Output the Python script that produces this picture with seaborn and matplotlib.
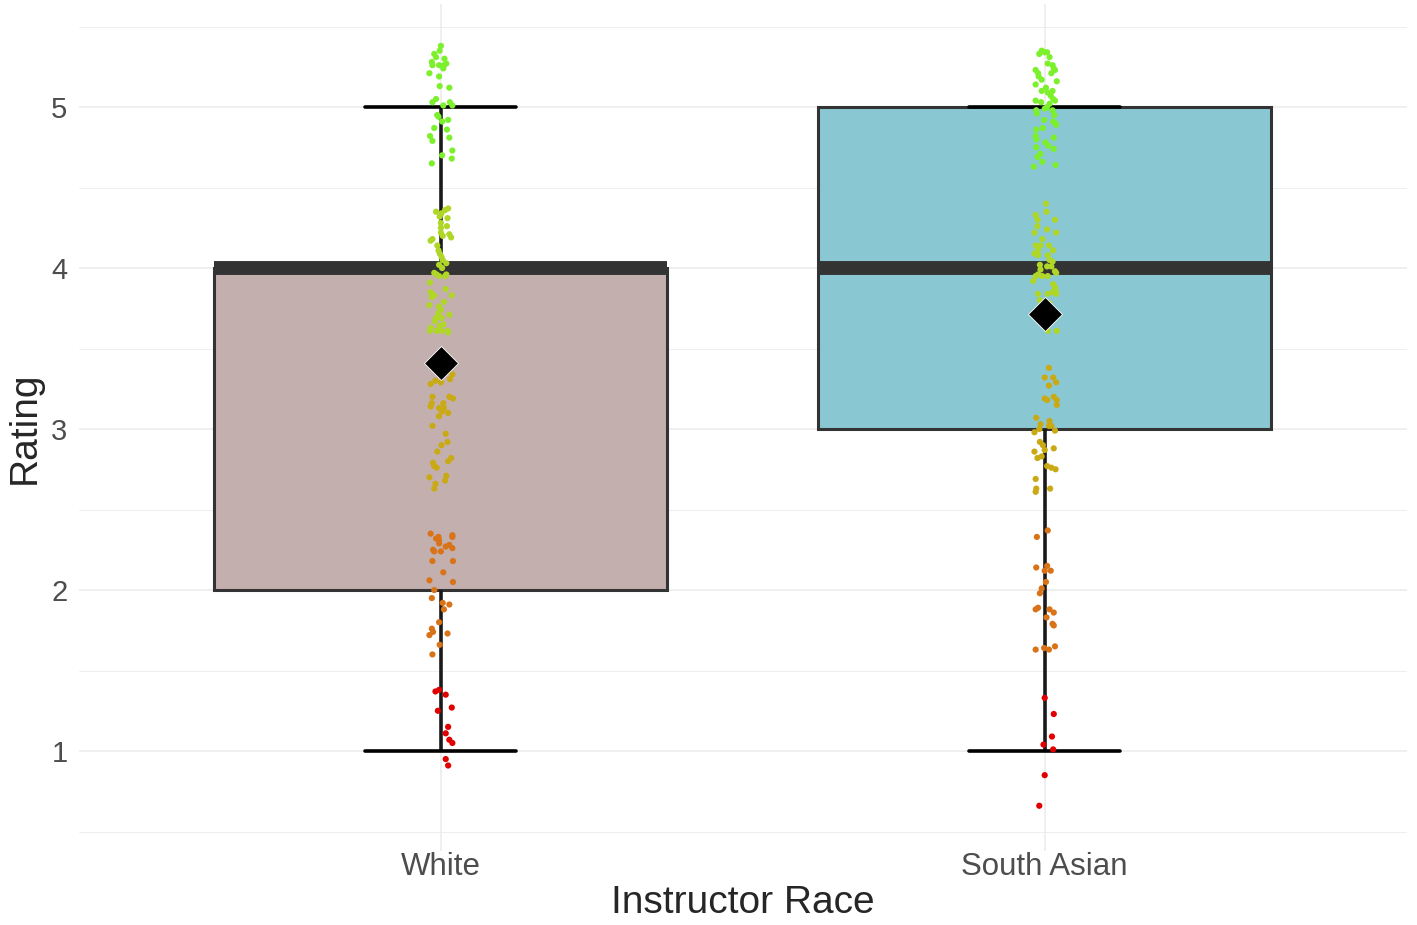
import numpy as np
import pandas as pd
import seaborn as sns
import matplotlib.pyplot as plt
from matplotlib.ticker import MultipleLocator

races = ["White", "South Asian"]
box_colors = {"White": "#C4AFAF", "South Asian": "#89C8D3"}
# point colour for rating 1..5
rating_colors = ["#E10000", "#D97318", "#C9AA14", "#B0D628", "#7CF02C"]

# jittered ratings (y) and horizontal jitter (dx)
white_y = [
    5.38, 5.35, 5.33, 5.31, 5.28, 5.26, 5.26, 5.26, 5.27, 5.24, 5.21, 5.19, 5.13, 5.12, 5.03,
    5.01, 5.03, 5.01, 4.95, 4.94, 4.91, 4.92, 4.87, 4.82, 4.79, 4.81, 4.73, 4.70, 4.68, 4.65,
    5.30, 5.05, 4.86,
    4.37, 4.36, 4.35, 4.34, 4.32, 4.31, 4.28, 4.25, 4.22, 4.21, 4.19, 4.18, 4.17, 4.20, 4.11,
    4.09, 4.07, 4.05, 4.03, 4.02, 4.00, 3.97, 3.96, 3.95, 3.95, 3.96, 3.91, 3.87, 3.85, 3.83,
    3.82, 3.83, 3.77, 3.76, 3.74, 3.72, 3.71, 3.69, 3.67, 3.69, 3.65, 3.64, 3.63, 3.61, 3.61,
    3.61, 3.61, 3.60, 4.26, 4.14, 3.79,
    3.28, 3.30, 3.29, 3.31, 3.34, 3.20, 3.16, 3.14, 3.20, 3.19, 3.16, 3.13, 3.13, 3.10, 3.08,
    3.11, 3.02, 2.97, 2.92, 2.90, 2.86, 2.82, 2.80, 2.79, 2.77, 2.76, 2.70, 2.71, 2.68, 2.66,
    2.63, 3.38, 3.36,
    2.35, 2.32, 2.33, 2.31, 2.29, 2.34, 2.33, 2.25, 2.24, 2.24, 2.27, 2.28, 2.26, 2.18, 2.18,
    2.11, 2.06, 2.05, 2.00, 1.95, 1.92, 1.91, 1.88, 1.80, 1.76, 1.74, 1.72, 1.73, 1.66, 1.60,
    1.37, 1.38, 1.35, 1.27, 1.25, 1.15, 1.11, 1.07, 1.05, 0.95, 0.91,
]
white_dx = [
    0.000, -0.002, -0.011, -0.008, -0.015, -0.014, -0.003, 0.005, 0.009, 0.004, -0.019, -0.003, -0.002, 0.014, -0.014,
    0.004, 0.015, 0.019, -0.006, -0.004, 0.002, 0.012, -0.011, -0.018, -0.014, 0.014, 0.019, 0.002, 0.018, -0.015,
    0.006, -0.008, 0.010,
    0.012, 0.007, -0.008, 0.001, -0.002, 0.011, 0.000, 0.000, 0.000, 0.014, 0.017, -0.014, -0.017, 0.003, -0.004,
    -0.002, 0.001, 0.003, 0.009, -0.003, 0.002, -0.011, -0.007, -0.003, 0.007, 0.009, -0.018, 0.008, -0.017, -0.011,
    -0.015, 0.018, -0.019, -0.003, 0.000, -0.004, 0.014, -0.008, -0.010, 0.001, 0.004, -0.002, -0.017, -0.018, -0.007,
    0.001, 0.011, 0.012, 0.010, -0.006, 0.005,
    -0.017, -0.009, 0.000, 0.015, 0.019, -0.014, -0.015, -0.017, 0.014, 0.020, 0.004, -0.003, 0.005, 0.012, -0.003,
    0.002, -0.014, 0.008, 0.011, 0.001, -0.006, 0.017, 0.012, -0.013, -0.011, -0.007, -0.019, 0.009, 0.007, -0.009,
    -0.011, -0.008, 0.008,
    -0.017, -0.008, -0.004, -0.003, -0.003, 0.019, 0.019, -0.013, -0.011, 0.000, 0.008, 0.014, 0.019, -0.014, 0.020,
    0.004, -0.019, 0.020, -0.011, -0.015, 0.003, 0.014, 0.005, -0.003, -0.015, -0.013, -0.019, 0.011, -0.002, -0.014,
    -0.009, -0.003, 0.008, 0.018, -0.005, 0.012, 0.008, 0.014, 0.019, 0.008, 0.012,
]
sa_y = [
    5.33, 5.35, 5.34, 5.34, 5.27, 5.26, 5.24, 5.21, 5.23, 5.23, 5.21, 5.17, 5.14, 5.16, 5.10,
    5.09, 5.10, 5.05, 5.04, 5.02, 5.04, 5.00, 4.99, 4.98, 4.98, 4.96, 4.92, 4.91, 4.90, 4.89,
    4.86, 4.82, 4.80, 4.81, 4.78, 4.75, 4.74, 4.71, 4.66, 4.63, 4.64,
    5.31, 5.19, 5.12, 5.07, 5.03, 4.95, 4.87, 4.76, 4.69,
    4.40, 4.35, 4.33, 4.30, 4.30, 4.26, 4.24, 4.22, 4.22, 4.18, 4.14, 4.14, 4.14, 4.11, 4.11,
    4.09, 4.08, 4.08, 4.05, 4.04, 4.02, 4.01, 4.01, 3.98, 3.99, 3.96, 3.95, 3.95, 3.95, 3.97,
    3.92, 3.90, 3.88, 3.86, 3.85, 3.84, 3.84, 3.84, 3.61, 3.61, 3.80, 3.78, 3.68,
    3.38, 3.32, 3.32, 3.29, 3.27, 3.19, 3.18, 3.20, 3.18, 3.15, 3.07, 3.03, 3.05, 3.02, 3.00,
    3.02, 2.98, 2.99, 2.92, 2.90, 2.86, 2.87, 2.88, 2.83, 2.82, 2.77, 2.76, 2.75, 2.69, 2.63,
    2.61, 2.63,
    2.37, 2.33, 2.14, 2.15, 2.12, 2.12, 2.05, 2.01, 1.98, 1.89, 1.88, 1.88, 1.86, 1.83, 1.79,
    1.78, 1.64, 1.63, 1.63, 1.65,
    1.33, 1.23, 1.09, 1.04, 1.01, 0.85, 0.66,
]
sa_dx = [
    -0.009, -0.005, 0.000, 0.004, 0.005, 0.013, 0.015, 0.011, 0.017, -0.015, -0.011, -0.005, -0.015, 0.020, -0.005,
    0.005, 0.013, 0.014, 0.017, 0.008, -0.015, 0.004, 0.000, 0.013, -0.014, -0.013, -0.001, 0.014, 0.017, 0.019,
    -0.014, -0.015, -0.014, 0.015, 0.001, -0.014, 0.015, -0.007, -0.004, -0.018, 0.018,
    0.008, -0.010, 0.002, 0.010, -0.006, 0.016, -0.003, 0.006, -0.012,
    0.002, 0.003, -0.015, -0.012, 0.017, -0.012, 0.004, -0.017, 0.019, -0.004, -0.015, -0.007, 0.007, -0.011, 0.014,
    -0.017, -0.011, 0.005, 0.008, 0.013, -0.008, 0.004, 0.011, 0.017, -0.007, -0.011, -0.015, -0.004, 0.005, 0.019,
    -0.019, 0.014, 0.017, 0.018, 0.013, -0.011, 0.005, 0.019, 0.005, 0.020, -0.008, 0.008, -0.002,
    0.007, 0.000, 0.014, 0.019, 0.007, 0.000, 0.004, 0.015, 0.020, 0.020, -0.014, -0.007, 0.008, 0.011, -0.009,
    0.007, -0.017, 0.017, -0.008, -0.003, -0.017, 0.000, 0.015, -0.005, -0.012, 0.004, 0.011, 0.018, -0.015, -0.014,
    -0.015, 0.009,
    0.005, -0.013, -0.014, 0.004, 0.000, 0.010, 0.002, -0.005, -0.008, -0.011, -0.015, 0.008, 0.015, 0.003, 0.013,
    0.015, -0.001, -0.015, 0.007, 0.017,
    0.000, 0.015, 0.012, -0.002, 0.014, 0.000, -0.009,
]

df = pd.DataFrame({
    "race": ["White"] * len(white_y) + ["South Asian"] * len(sa_y),
    "y": white_y + sa_y,
    "dx": white_dx + sa_dx,
})
df["rating"] = df["y"].round().astype(int)
df["pos"] = df["race"].map({r: i for i, r in enumerate(races)})

sns.set_style("white")
plt.rcParams["font.family"] = ["Liberation Sans", "DejaVu Sans"]

fig = plt.figure(figsize=(14.17, 9.25), dpi=100)
ax = fig.add_axes([78.6 / 1417, 1 - 851 / 925, (1407 - 78.6) / 1417, 847 / 925])

sns.boxplot(data=df, x="race", y="rating", hue="race", order=races, palette=box_colors,
            saturation=1, width=0.75, showfliers=False, linecolor="#333333", linewidth=2.2,
            medianprops=dict(color="#333333", linewidth=10, solid_capstyle="butt"),
            whiskerprops=dict(color="#1a1a1a", linewidth=2.6),
            capprops=dict(color="black", linewidth=2.6, gid="cap"),
            legend=False, ax=ax, zorder=2)

# narrower caps like an errorbar
for ln in ax.lines:
    if ln.get_gid() == "cap":
        xs = np.asarray(ln.get_xdata(), dtype=float)
        c = xs.mean()
        ln.set_xdata([c - 0.125, c + 0.125])

ax.scatter(df["pos"] + df["dx"], df["y"], c=[rating_colors[r - 1] for r in df["rating"]],
           s=20, linewidths=0, zorder=3)

means = df.groupby("race")["rating"].mean().reindex(races)
ax.scatter(range(len(races)), means.values, marker="D", s=300, color="black",
           edgecolors="white", linewidths=0.6, zorder=4)

ax.set_xlim(-0.6, 1.6)
ax.set_ylim(0.379, 5.64)
ax.yaxis.set_major_locator(MultipleLocator(1))
ax.yaxis.set_minor_locator(MultipleLocator(0.5))
ax.grid(True, which="major", axis="both", color="#EBEBEB", linewidth=1.1, zorder=0)
ax.grid(True, which="minor", axis="y", color="#EBEBEB", linewidth=0.6, zorder=0)
ax.set_axisbelow(True)
for s in ax.spines.values():
    s.set_visible(False)
ax.tick_params(axis="both", which="both", length=0, labelsize=21, labelcolor="#4D4D4D")
ax.tick_params(axis="x", labelsize=22.5, pad=1)
ax.tick_params(axis="y", pad=8)
ax.set_xlabel("Instructor Race", fontsize=28, labelpad=2)
ax.set_ylabel("Rating", fontsize=28, labelpad=6)

fig.savefig("out.png", dpi=100)
